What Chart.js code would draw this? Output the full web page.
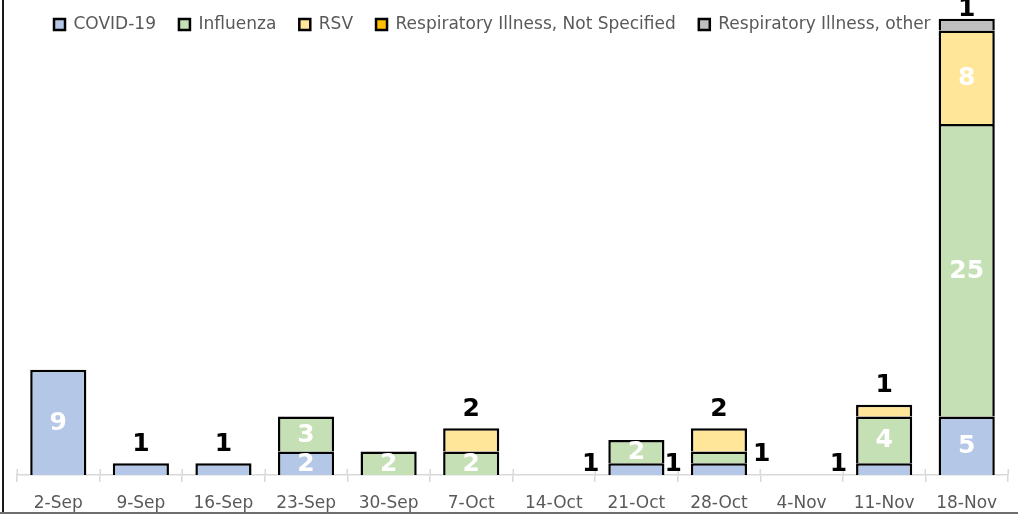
<!DOCTYPE html>
<html><head><meta charset="utf-8">
<script src="https://cdn.jsdelivr.net/npm/chart.js@4"></script>
<style>html,body{margin:0;padding:0;background:#fff;}#wrap{width:1018px;height:514px;position:relative;}</style>
</head><body><div id="wrap"><canvas id="c" width="1018" height="514"></canvas></div>
<script>
const categories = ['2-Sep','9-Sep','16-Sep','23-Sep','30-Sep','7-Oct','14-Oct','21-Oct','28-Oct','4-Nov','11-Nov','18-Nov'];
const covid   = [9,1,1,2,0,0,0,1,1,0,1,5];
const flu     = [0,0,0,3,2,2,0,2,1,0,4,25];
const rsv     = [0,0,0,0,0,2,0,0,2,0,1,8];
const notSpec = [0,0,0,0,0,0,0,0,0,0,0,0];
const other   = [0,0,0,0,0,0,0,0,0,0,0,1];
const seriesNames = ['COVID-19','Influenza','RSV','Respiratory Illness, Not Specified','Respiratory Illness, other'];

const colors = ['#B4C7E7','#C5E0B4','#FFE699','#FFC000','#BFBFBF'];
const FONT = '"DejaVu Sans", sans-serif';
const TEXT = '#595959';

// label placement for small segments (datasetIndex:index)
const placement = {'0:1':'above','0:2':'above','2:5':'above','2:8':'above','2:10':'above','4:11':'above',
  '0:7':'left','0:8':'left','0:10':'left','1:8':'right'};

const labelPlugin = {
  id:'segLabels',
  afterDatasetsDraw(chart){
    const ctx = chart.ctx;
    ctx.save();
    ctx.font = 'bold 25px ' + FONT;
    chart.data.datasets.forEach((ds, di) => {
      const meta = chart.getDatasetMeta(di);
      meta.data.forEach((el, i) => {
        const v = ds.data[i];
        if (!v) return;
        const p = el.getProps(['x','y','base','width'], true);
        const top = Math.min(p.y, p.base), bot = Math.max(p.y, p.base);
        const mid = (top + bot) / 2;
        const mode = placement[di + ':' + i];
        ctx.textBaseline = 'middle';
        if (mode === 'above') {
          ctx.fillStyle = '#000'; ctx.textAlign = 'center';
          ctx.fillText(String(v), p.x, Math.max(top - 19, 9));
        } else if (mode === 'left') {
          ctx.fillStyle = '#000'; ctx.textAlign = 'right';
          ctx.fillText(String(v), p.x - p.width/2 - 9, mid - 5);
        } else if (mode === 'right') {
          ctx.fillStyle = '#000'; ctx.textAlign = 'left';
          ctx.fillText(String(v), p.x + p.width/2 + 6, mid - 3);
        } else {
          ctx.fillStyle = '#FFFFFF'; ctx.textAlign = 'center';
          ctx.fillText(String(v), p.x, mid + 1);
        }
      });
    });
    ctx.restore();
  }
};

const decoPlugin = {
  id:'deco',
  beforeDatasetsDraw(chart){
    const ctx = chart.ctx, xs = chart.scales.x, bottom = chart.chartArea.bottom;
    const half = (xs.getPixelForValue(1) - xs.getPixelForValue(0)) / 2;
    ctx.save();
    ctx.strokeStyle = '#D9D9D9'; ctx.lineWidth = 1.5;
    for (let i = 0; i <= categories.length; i++) {
      const x = Math.round(xs.getPixelForValue(i) - half) + 0.25;
      ctx.beginPath(); ctx.moveTo(x, bottom - 6); ctx.lineTo(x, bottom); ctx.stroke();
    }
    ctx.restore();
  },
  afterDraw(chart){
    const ctx = chart.ctx;
    ctx.save();
    ctx.strokeStyle = '#1a1a1a'; ctx.lineWidth = 2;
    ctx.beginPath(); ctx.moveTo(3, 0); ctx.lineTo(3, 514); ctx.stroke();
    ctx.strokeStyle = '#6e6e6e'; ctx.lineWidth = 2;
    ctx.beginPath(); ctx.moveTo(0, 513); ctx.lineTo(1018, 513); ctx.stroke();
    ctx.restore();
  }
};

// legend overlays the plot area (takes no layout height), like the original
const legendOverlay = {
  id:'legendOverlay',
  beforeLayout(chart){
    const l = chart.legend;
    if (l && !l._overlay) {
      const f = l.fit.bind(l);
      l.fit = function(){ f(); this._realH = this.height; this.height = 0; };
      l._overlay = true;
    }
  },
  afterLayout(chart){
    const l = chart.legend;
    if (l) {
      l.left += 14; l.right += 14; l.top -= 14;
      l.height = l._realH || 40; l.bottom = l.top + l.height;
    }
  }
};

const seriesData = [covid, flu, rsv, notSpec, other];
const datasets = seriesData.map((d, k) => ({
  label: seriesNames[k],
  data: d,
  backgroundColor: colors[k],
  borderColor: '#000000',
  borderWidth: 2.5,
  borderSkipped: 'start',
  categoryPercentage: 1.0,
  barPercentage: 0.68
}));

new Chart(document.getElementById('c'), {
  type: 'bar',
  data: { labels: categories, datasets },
  options: {
    responsive: false,
    animation: false,
    devicePixelRatio: 1,
    layout: { padding: { top: 7, left: 17, right: 10, bottom: 0 } },
    plugins: {
      legend: {
        position: 'top',
        align: 'start',
        labels: {
          boxWidth: 11, boxHeight: 11, padding: 23,
          color: TEXT, font: { family: FONT, size: 17 }
        }
      },
      tooltip: { enabled: false }
    },
    scales: {
      x: {
        stacked: true,
        grid: { display: true, drawOnChartArea: false, drawTicks: true, tickLength: 7, color: '#D9D9D9', lineWidth: 1.5, offset: true },
        border: { display: true, color: '#D9D9D9', width: 1.5 },
        ticks: { color: TEXT, font: { family: FONT, size: 17 }, padding: 11, maxRotation: 0, autoSkip: false },
        afterFit(s){ s.height = 39; }
      },
      y: {
        stacked: true, display: false, min: 0, max: 40
      }
    }
  },
  plugins: [labelPlugin, decoPlugin, legendOverlay]
});
</script>
</body></html>
